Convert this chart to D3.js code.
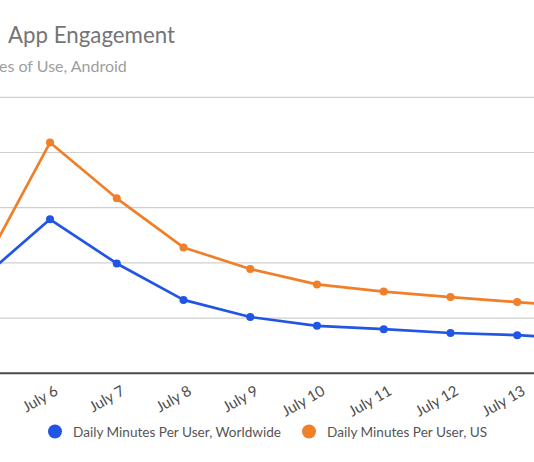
<!DOCTYPE html>
<html lang="en">
	<head>
		<meta charset="UTF-8">
		<title>App Engagement</title>
		<script src="https://d3js.org/d3.v7.min.js"></script>
		<style>
			body { margin: 0; background: #fff; }
			text { font-family: Lato, "Open Sans", sans-serif; }
		</style>
	</head>
	<body>
		<div id="chart"></div>

		<script type="text/javascript">
			// Days on the axis (July 5 and July 14 sit just outside the visible area)
			const days = ['July 5', 'July 6', 'July 7', 'July 8', 'July 9', 'July 10', 'July 11', 'July 12', 'July 13', 'July 14'];
			const labelDays = days.slice(1, -1);
			// Daily minutes per user
			const worldwide = [17.4, 27.9, 19.9, 13.3, 10.2, 8.6, 8.0, 7.3, 6.9, 6.2];
			const us = [19.3, 41.8, 31.7, 22.8, 18.9, 16.1, 14.8, 13.8, 12.9, 12.0];
			const gridTicks = [10, 20, 30, 40, 50];
			const seriesNames = ['Daily Minutes Per User, Worldwide', 'Daily Minutes Per User, US'];
			const colors = ['#2155e6', '#f07f2a'];

			const width = 534, height = 462;

			const svg = d3.select('#chart')
				.append('svg')
				.attr('width', width)
				.attr('height', height);

			// Scales
			const x = d3.scalePoint()
				.domain(days)
				.range([-16.75, 584]);

			const y = d3.scaleLinear()
				.domain([0, 50])
				.range([373.3, 97.3]);

			// Title / subtitle (cropped on the left)
			svg.append('text')
				.attr('x', 8)
				.attr('y', 43)
				.attr('font-size', 22.3)
				.attr('fill', '#757575')
				.text('App Engagement');

			svg.append('text')
				.attr('x', -1)
				.attr('y', 72)
				.attr('font-size', 16)
				.attr('fill', '#9e9e9e')
				.text('es of Use, Android');

			// Gridlines
			svg.append('g')
				.selectAll('line')
				.data(gridTicks)
				.enter()
				.append('line')
				.attr('x1', 0)
				.attr('x2', width)
				.attr('y1', d => y(d))
				.attr('y2', d => y(d))
				.attr('stroke', '#cfcfcf')
				.attr('stroke-width', 1.2);

			// X axis
			const xAxis = d3.axisBottom(x)
				.tickValues(labelDays)
				.tickSize(0)
				.tickPadding(0);
			const gx = svg.append('g')
				.attr('transform', `translate(0,${y(0)})`)
				.call(xAxis);
			gx.select('.domain')
				.attr('d', `M0,0H${width}`)
				.attr('stroke', '#4a4a4a')
				.attr('stroke-width', 2);
			gx.selectAll('text')
				.attr('font-family', 'Lato, "Open Sans", sans-serif')
				.attr('font-size', 15)
				.attr('fill', '#4d4d4d')
				.attr('text-anchor', 'end')
				.attr('dy', 0)
				.attr('transform', 'translate(8.5,20.5) rotate(-30)');

			// Lines and points
			const series = [worldwide, us];
			const line = d3.line()
				.x((d, i) => x(days[i]))
				.y(d => y(d));

			series.forEach((vals, s) => {
				svg.append('path')
					.datum(vals)
					.attr('fill', 'none')
					.attr('stroke', colors[s])
					.attr('stroke-width', 2.7)
					.attr('stroke-linejoin', 'round')
					.attr('d', line);

				svg.append('g')
					.selectAll('circle')
					.data(vals)
					.enter()
					.append('circle')
					.attr('cx', (d, i) => x(days[i]))
					.attr('cy', d => y(d))
					.attr('r', 4)
					.attr('fill', colors[s]);
			});

			// Legend
			const legendX = [55, 309];
			const legend = svg.append('g');
			seriesNames.forEach((name, s) => {
				legend.append('circle')
					.attr('cx', legendX[s])
					.attr('cy', 431.5)
					.attr('r', 7)
					.attr('fill', colors[s]);
				legend.append('text')
					.attr('x', legendX[s] + 18)
					.attr('y', 436.5)
					.attr('font-size', 13.6)
					.attr('fill', '#555')
					.text(name);
			});
		</script>
	</body>
</html>
